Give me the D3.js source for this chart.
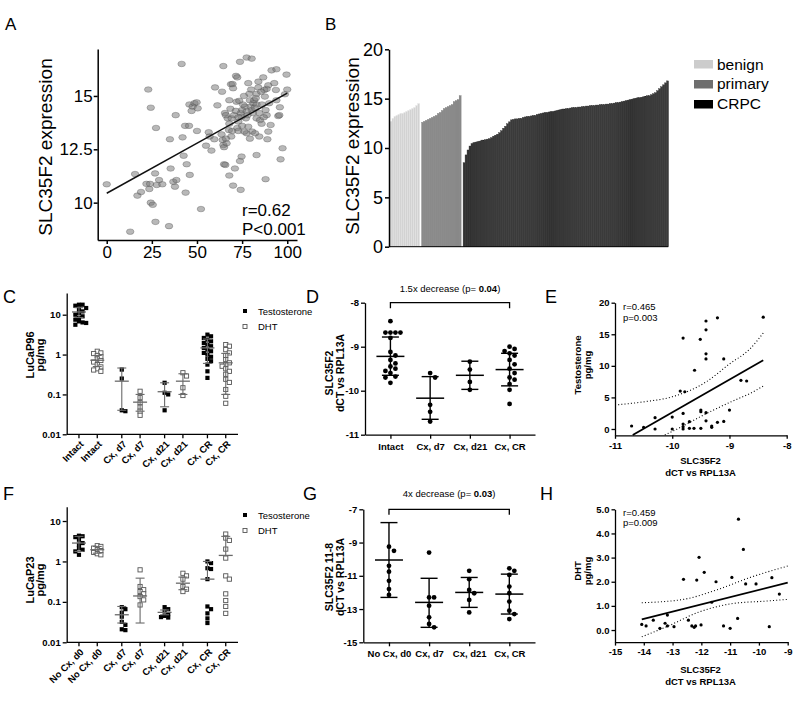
<!DOCTYPE html>
<html><head><meta charset="utf-8">
<script src="https://cdn.jsdelivr.net/npm/d3@7"></script>
<style>body{margin:0;background:#fff}svg{display:block}</style>
</head><body>
<script>
// ================= DATA =================
// Panel A: tumor content (%) vs SLC35F2 expression
const aSamples = [[0,10.86],[15.7,11.34],[17,10.33],[19,10.5],[13,8.64],[23,15.3],[24.4,14.45],[27.3,13.5],[22,10.88],[24,10.88],[23.6,10.64],[24.4,10],[25.5,9.9],[26.8,11.37],[27.7,10.83],[29,11.06],[30.8,10.86],[27,9.1],[34.5,8.9],[35,12.97],[35.4,11.6],[36.9,10.98],[37.8,10.75],[38.2,14.1],[38.6,11.06],[41.5,16.5],[42,13.06],[42.6,12.2],[43.4,13.6],[45.6,13.6],[43.7,10.47],[44.3,11.8],[46,11.3],[45.8,14.6],[47.6,14.5],[48.6,14.66],[49.8,14.7],[50.4,14.42],[47,14.3],[50,13.36],[52.2,9.7],[55,12.67],[56.5,13.3],[57,13.1],[58,12.44],[59.6,12.97],[60,15.4],[61.3,14.56],[63.6,13.2],[64.2,12.94],[64.6,12.7],[65,12.6],[66.4,12.78],[65,11.8],[65.7,11.77],[63.9,15.2],[64.6,16.4],[65.5,14.2],[67,13.95],[67.9,13.7],[69.2,13.95],[67.9,14.8],[68.8,15.55],[69.7,15.56],[70,15.36],[67.7,13.4],[69.5,13.36],[67.9,11.27],[70,10.8],[71,11.6],[71.6,15.94],[72.3,15.87],[73.8,16.6],[71.9,14.73],[73.4,14.77],[74.2,14.2],[72.9,13.8],[74.7,14.03],[72.3,13.5],[72.9,13.36],[73.8,11.95],[74.7,12.16],[74.2,10.6],[76.5,14.5],[77.5,16.8],[80.3,16.75],[78.4,15.6],[79,15.1],[79.3,14.8],[79.7,14.5],[80.3,14.34],[78.4,13.56],[79.3,13],[80.6,13.33],[81.2,14.66],[81.7,14.8],[82.6,14.9],[83,15.1],[84,15.4],[84,15.67],[83,14.6],[83,13.95],[82.2,13.25],[84.5,13.1],[83,12.23],[84.9,13.87],[85.8,13.7],[86.7,15.87],[87.3,15.28],[87.6,14.97],[88,14.34],[88.6,14.1],[88.6,15.33],[89.5,15.5],[90,14.66],[89.5,13.33],[89,12.97],[88,11.1],[90.8,13.64],[91.3,16.2],[94,16.25],[92.8,15.6],[93.7,15.28],[94,14.8],[95,14.06],[95.9,14.47],[95.6,14.1],[96.3,12.03],[97.4,12.55],[99.6,16],[100,15.3],[98.7,15.08],[77.5,13.25],[76.2,13.33],[75,14.34],[77.1,13.95],[77.5,14.27],[66,14.1],[68.5,14.4],[70.5,14.1],[71.5,14.3],[73,14.0],[75.5,14.6],[76,15.0],[78,14.1],[81,14.2],[82,14.45],[84.5,14.2],[86,14.6],[87,14.0],[80,15.3],[85.5,15.2],[69,13.1],[66,13.0],[75,13.6]];
const aFitX = [0, 100];
const aFitY = [10.44, 15.13];
const aStats = ["r=0.62", "P<0.001"];
const aXTicks = [0, 25, 50, 75, 100];
const aYTicks = [10, 12.5, 15];

// Panel B: sorted expression by sample type
const bBenign = [12.7,13.0,13.2,13.3,13.4,13.5,13.5,13.6,13.7,13.8,13.9,14.0,14.1,14.3,14.5];
const bPrimary = [12.6,12.7,12.8,12.9,13.0,13.1,13.2,13.3,13.5,13.6,13.8,14.0,14.1,14.2,14.3,14.4,14.7,14.8,14.9,15.3];
const bCRPC = [8.5,9.3,9.8,10.2,10.45,10.55,10.6,10.65,10.7,10.8,10.8,10.85,10.9,10.95,11.05,11.2,11.3,11.4,11.55,11.75,12.0,12.2,12.45,12.65,12.85,12.9,12.95,12.95,13.0,13.0,13.1,13.15,13.2,13.2,13.25,13.3,13.3,13.4,13.45,13.5,13.55,13.6,13.6,13.65,13.7,13.7,13.75,13.8,13.85,13.9,13.95,13.95,14.0,14.0,14.05,14.1,14.1,14.1,14.15,14.15,14.2,14.2,14.25,14.25,14.3,14.3,14.3,14.35,14.35,14.4,14.4,14.4,14.45,14.45,14.5,14.5,14.55,14.6,14.6,14.65,14.7,14.75,14.8,14.85,14.9,14.95,15.0,15.05,15.1,15.1,15.15,15.2,15.25,15.3,15.3,15.4,15.5,15.6,15.8,16.0,16.2,16.4,16.6,16.8];
const bLegend = ["benign", "primary", "CRPC"];
const bYTicks = [0, 5, 10, 15, 20];

// Panel C: LuCaP96 hormone levels (pg/mg)
const cGroups = ["Intact", "Cx, d7", "Cx, d21", "Cx, CR"];
const cTesto = [
  [17.8,17.8,16.8,14.7,13.9,12.1,11,10,9.1,8.3,7.5,6.8,6.4,6.2,5.6],
  [0.42,0.25,0.04,0.038],
  [0.196,0.11,0.1,0.04],
  [3.16,2.87,2.61,2.37,2.15,1.96,1.78,1.62,1.47,1.33,1.21,1.1,1.0,0.88,0.78,0.68,0.56,0.38,0.26]
];
const cDHT = [
  [1.21,1.1,1.06,0.95,0.88,0.78,0.71,0.65,0.56,0.49,0.44,0.41,0.38],
  [0.12,0.083,0.062,0.048,0.038,0.03],
  [0.35,0.29,0.147,0.094],
  [1.78,1.62,1.33,1.1,0.95,0.75,0.62,0.56,0.51,0.44,0.38,0.32,0.24,0.2,0.133,0.09,0.06]
];
const cTestoMean = [11.7, 0.215, 0.117, 1.47], cTestoLo = [8.5, 0.04, 0.049, 0.6], cTestoHi = [15, 0.46, 0.196, 2.45];
const cDHTMean = [0.72, 0.064, 0.215, 0.62], cDHTLo = [0.5, 0.038, 0.1, 0.1], cDHTHi = [0.95, 0.1, 0.33, 1.07];
const cLegend = ["Testosterone", "DHT"];
const logTicks = [0.01, 0.1, 1, 10];

// Panel D: LuCaP96 SLC35F2 dCT
const dGroups = ["Intact", "Cx, d7", "Cx, d21", "Cx, CR"];
const dValues = [
  [-8.42,-8.68,-8.68,-8.68,-8.68,-8.8,-9.12,-9.2,-9.3,-9.38,-9.45,-9.5,-9.55,-9.6,-9.68,-9.7,-9.82],
  [-9.6,-9.7,-10.32,-10.48,-10.7],
  [-9.34,-9.52,-9.8,-9.98],
  [-9.0,-9.05,-9.1,-9.15,-9.2,-9.3,-9.4,-9.5,-9.6,-9.7,-9.75,-9.85,-9.98,-10.3]
];
const dMean = [-9.22, -10.17, -9.65, -9.52], dLo = [-9.65, -10.65, -9.97, -9.89], dHi = [-8.78, -9.68, -9.33, -9.15];
const dYTicks = [-11, -10, -9, -8];
const dNote = ["1.5x decrease (p= ", "0.04", ")"];

// Panel E: testosterone vs SLC35F2
const eSamples = [[-10.71,0.47],[-10.5,0.26],[-10.3,1.79],[-10.3,0],[-10.0,1.89],[-10.0,0],[-9.81,2.47],[-9.81,0.79],[-9.81,0.37],[-9.81,0],[-9.7,0.1],[-9.86,6.0],[-9.78,5.9],[-9.81,14.4],[-9.61,9.3],[-9.7,1.16],[-9.62,0.1],[-9.51,14.2],[-9.5,3.0],[-9.5,2.74],[-9.5,0.1],[-9.41,17.1],[-9.41,15.7],[-9.41,11.9],[-9.41,11.1],[-9.41,2.58],[-9.41,1.3],[-9.31,0.47],[-9.31,0.26],[-9.21,17.6],[-9.21,1.05],[-9.1,11.1],[-9.1,1.2],[-9.0,3.0],[-8.8,7.7],[-8.7,7.6],[-8.41,17.7]];
const eFitX = [-10.69, -8.41], eFitY = [-0.95, 10.9];
const eUpperX = [-11, -10.5, -10, -9.4, -9, -8.64, -8.41], eUpperY = [3.8, 4.3, 5.1, 7.5, 10.3, 12.7, 15.2];
const eLowerX = [-10.13, -9.81, -9.51, -9.22, -8.93, -8.64, -8.41], eLowerY = [-0.95, 0.47, 1.95, 3.26, 4.47, 5.63, 6.8];
const eStats = ["r=0.465", "p=0.003"];
const eXTicks = [-11, -10, -9, -8], eYTicks = [0, 5, 10, 15, 20];

// Panel F: LuCaP23 hormone levels
const fGroups = ["No Cx, d0", "Cx, d7", "Cx, d21", "Cx, CR"];
const fTesto = [
  [4.33,4.2,4.0,3.45,2.85,2.6,2.14,1.95,1.77,1.46],
  [0.074,0.066,0.054,0.043,0.032,0.027,0.021,0.02],
  [0.074,0.066,0.058,0.05,0.045,0.042,0.041],
  [1.0,0.91,0.68,0.65,0.365,0.077,0.066,0.052,0.039,0.03]
];
const fDHT = [
  [2.45,2.35,2.14,1.95,1.84,1.67,1.55,1.46],
  [0.62,0.24,0.2,0.18,0.158,0.135,0.112,0.084],
  [0.51,0.44,0.365,0.24,0.206,0.18],
  [4.76,3.79,3.32,2.02,1.21,0.44,0.365,0.158,0.108,0.077,0.052]
];
const fTestoMean = [2.85, 0.048, 0.055, 0.365], fTestoLo = [1.77, 0.03, 0.048, null], fTestoHi = [4.17, 0.077, 0.063, 1.0];
const fDHTMean = [1.95, 0.14, 0.29, 1.41], fDHTLo = [1.6, 0.03, 0.2, null], fDHTHi = [2.35, 0.386, 0.41, 4.17];
const fLegend = ["Tesosterone", "DHT"];

// Panel G: LuCaP23 SLC35F2 11-8 dCT
const gGroups = ["No Cx, d0", "Cx, d7", "Cx, d21", "Cx, CR"];
const gValues = [
  [-9.25,-9.5,-10.4,-10.75,-11.3,-11.8,-12.15],
  [-9.6,-12.3,-12.3,-12.8,-13.5,-13.9,-14.1],
  [-10.7,-11.2,-11.85,-12.05,-12.45,-13.2],
  [-10.55,-10.7,-10.95,-11.65,-12.05,-12.55,-13.1,-13.3,-13.6]
];
const gMean = [-10.05, -12.6, -12.0, -12.1], gLo = [-12.3, -14.1, -12.9, -13.3], gHi = [-7.8, -11.15, -11.1, -10.9];
const gYTicks = [-15, -13, -11, -9, -7];
const gNote = ["4x decrease (p= ", "0.03", ")"];

// Panel H: DHT vs SLC35F2
const hSamples = [[-14.07,0.23],[-13.92,0.17],[-13.67,0.41],[-13.44,0.07],[-13.26,0.28],[-13.18,0.62],[-13.18,0.17],[-12.95,0.14],[-12.62,2.1],[-12.45,0.41],[-12.33,0.17],[-12.25,0.11],[-12.2,0.17],[-12.16,2.07],[-12.08,3.01],[-12.01,0.21],[-11.9,2.39],[-11.64,1.15],[-11.49,2.0],[-11.23,0.17],[-11.0,0.07],[-10.94,2.18],[-10.74,0.48],[-10.71,4.59],[-10.54,3.34],[-10.46,1.91],[-10.1,1.91],[-9.64,0.14],[-9.55,2.17],[-9.29,1.49]];
const hFitX = [-14.07, -9.0], hFitY = [0.44, 1.96];
const hUpperX = [-14.07, -12.62, -11.47, -10.3, -9.0], hUpperY = [1.13, 1.27, 1.66, 2.18, 2.65];
const hLowerX = [-14.07, -13.2, -12.05, -10.89, -9.73, -9.0], hLowerY = [-0.28, 0.14, 0.76, 1.1, 1.2, 1.27];
const hStats = ["r=0.459", "p=0.009"];
const hXTicks = [-15, -14, -13, -12, -11, -10, -9], hYTicks = [0, 1, 2, 3, 4, 5];

// ================= DRAWING =================
const FONT = "'Liberation Sans', Arial, Helvetica, sans-serif";
const svg = d3.select("body").append("svg").attr("width", 800).attr("height", 703)
  .attr("font-family", FONT);
const plain = d => String(d);

function txt(g, x, y, s, o = {}) {
  const t = g.append("text").attr("x", x).attr("y", y).text(s)
    .attr("font-size", o.size || 10).attr("font-weight", o.bold ? "bold" : "normal")
    .attr("text-anchor", o.anchor || "start").attr("fill", "#000");
  if (o.dy) t.attr("dy", o.dy);
  return t;
}
function vtxt(g, x, y, s, o = {}) {
  return g.append("text").attr("transform", `translate(${x},${y}) rotate(-90)`)
    .attr("dy", "0.35em").attr("text-anchor", "middle").text(s)
    .attr("font-size", o.size || 10).attr("font-weight", o.bold ? "bold" : "normal").attr("fill", "#000");
}
function styleAxis(sel, fs, bold, sw) {
  sel.attr("font-family", FONT).attr("font-size", fs);
  sel.selectAll(".domain").attr("stroke", "#000").attr("stroke-width", sw);
  sel.selectAll(".tick line").attr("stroke", "#000").attr("stroke-width", sw);
  sel.selectAll(".tick text").attr("fill", "#000").attr("font-weight", bold ? "bold" : "normal");
}
function swarm(ys, step, thr) {
  const idx = ys.map((_, i) => i).sort((a, b) => ys[a] - ys[b]);
  const placed = [], off = new Array(ys.length).fill(0);
  idx.forEach(i => {
    for (let k = 0; k < 30; k++) {
      const o = k === 0 ? 0 : (k % 2 ? 1 : -1) * Math.ceil(k / 2) * step;
      if (placed.every(p => Math.abs(p.x - o) >= thr || Math.abs(p.y - ys[i]) >= thr)) {
        off[i] = o; placed.push({ x: o, y: ys[i] }); break;
      }
    }
  });
  return off;
}

// Panel letters
[["A", 5, 30, 17], ["B", 325, 30, 17], ["C", 3, 303, 18], ["D", 306, 303, 18], ["E", 545, 303, 18],
 ["F", 3, 500, 18], ["G", 303, 500, 18], ["H", 540, 500, 18]].forEach(([l, x, y, s]) => txt(svg, x, y, l, { size: s }));

// ---------- Panel A ----------
(function () {
  const g = svg.append("g");
  const x = d3.scaleLinear().domain([-5, 105.4]).range([97.7, 297]);
  const y = d3.scaleLinear().domain([8.25, 17.2]).range([240, 49]);
  g.selectAll("ellipse").data(aSamples).join("ellipse")
    .attr("cx", d => x(d[0])).attr("cy", d => y(d[1])).attr("rx", 3.8).attr("ry", 2.8)
    .attr("fill", "#767676").attr("fill-opacity", 0.52).attr("stroke", "#4a4a4a").attr("stroke-opacity", 0.55).attr("stroke-width", 0.6);
  g.append("line").attr("x1", x(aFitX[0])).attr("y1", y(aFitY[0])).attr("x2", x(aFitX[1])).attr("y2", y(aFitY[1]))
    .attr("stroke", "#111").attr("stroke-width", 1.5);
  const xa = g.append("g").attr("transform", "translate(0,240)")
    .call(d3.axisBottom(x).tickValues(aXTicks).tickFormat(plain).tickSize(4).tickPadding(2).tickSizeOuter(0));
  styleAxis(xa, 17, false, 1.5);
  const ya = g.append("g").attr("transform", "translate(97.7,0)")
    .call(d3.axisLeft(y).tickValues(aYTicks).tickFormat(plain).tickSize(4).tickPadding(1).tickSizeOuter(0));
  styleAxis(ya, 17, false, 1.5);
  vtxt(g, 45, 147, "SLC35F2 expression", { size: 19 });
  txt(g, 242, 216, aStats[0], { size: 17 });
  txt(g, 242, 235, aStats[1], { size: 17 });
})();

// ---------- Panel B ----------
(function () {
  const g = svg.append("g");
  const keys = [...bBenign.map((_, i) => "b" + i), "gap1", ...bPrimary.map((_, i) => "p" + i), "gap2", ...bCRPC.map((_, i) => "c" + i)];
  const x = d3.scaleBand().domain(keys).range([390, 668.3]).paddingInner(0.12);
  const y = d3.scaleLinear().domain([0, 20]).range([246.7, 49.3]);
  const cols = { b: "#d2d2d2", p: "#8a8a8a", c: "#3a3a3a" };
  const bars = [
    ...bBenign.map((v, i) => ({ k: "b" + i, v, t: "b" })),
    ...bPrimary.map((v, i) => ({ k: "p" + i, v, t: "p" })),
    ...bCRPC.map((v, i) => ({ k: "c" + i, v, t: "c" }))];
  g.selectAll("rect.bar").data(bars).join("rect").attr("class", "bar")
    .attr("x", d => x(d.k)).attr("width", x.step()).attr("y", d => y(d.v)).attr("height", d => y(0) - y(d.v))
    .attr("fill", d => cols[d.t]).attr("stroke", d => d.t === "c" ? "#222" : (d.t === "p" ? "#777" : "#e6e6e6")).attr("stroke-width", 0.35);
  const ya = g.append("g").attr("transform", "translate(389,0)")
    .call(d3.axisLeft(y).tickValues(bYTicks).tickFormat(plain).tickSize(4).tickPadding(2).tickSizeOuter(0));
  styleAxis(ya, 18, false, 1.5);
  g.append("line").attr("x1", 389).attr("x2", 668.3).attr("y1", y(0)).attr("y2", y(0)).attr("stroke", "#000").attr("stroke-width", 1);
  vtxt(g, 352, 146, "SLC35F2 expression", { size: 19 });
  const lc = ["#cccccc", "#6e6e6e", "#000"];
  bLegend.forEach((l, i) => {
    g.append("rect").attr("x", 694).attr("y", 60 + i * 20).attr("width", 19).attr("height", 8.5).attr("fill", lc[i]);
    txt(g, 717, 69.5 + i * 19.5, l, { size: 15.5 });
  });
})();

// ---------- Panels C & F ----------
function hormonePanel(p) {
  const g = svg.append("g");
  const y = d3.scaleLog().domain(p.yDomain).range([p.yBottom, p.yTop]);
  const outer = d3.scaleBand().domain(p.groups).range([66.7, 238]);
  const inner = d3.scalePoint().domain(["T", "DHT"]).range([0, outer.bandwidth()]).padding(0.67);
  const xPos = (gi, s) => outer(p.groups[gi]) + inner(s);
  const series = [
    { s: "T", vals: p.testo, mean: p.tMean, lo: p.tLo, hi: p.tHi },
    { s: "DHT", vals: p.dht, mean: p.dMean, lo: p.dLo, hi: p.dHi }];
  series.forEach(ser => {
    ser.vals.forEach((vals, gi) => {
      const ys = vals.map(v => y(v));
      const off = swarm(ys, 3.6, 3.4);
      const cx = xPos(gi, ser.s);
      g.selectAll(null).data(vals).join("rect")
        .attr("x", (d, i) => cx + off[i] - 2.1).attr("y", (d, i) => ys[i] - 2.1)
        .attr("width", 4.2).attr("height", 4.2)
        .attr("fill", ser.s === "T" ? "#000" : "#fff")
        .attr("stroke", ser.s === "T" ? "none" : "#555").attr("stroke-width", 0.9);
      const m = y(ser.mean[gi]), hi = y(ser.hi[gi]);
      const lo = ser.lo[gi] == null ? m : y(ser.lo[gi]);
      const col = "#6a6a6a";
      g.append("line").attr("x1", cx).attr("x2", cx).attr("y1", lo).attr("y2", hi).attr("stroke", col).attr("stroke-width", 1.1);
      g.append("line").attr("x1", cx - 7).attr("x2", cx + 7).attr("y1", m).attr("y2", m).attr("stroke", col).attr("stroke-width", 1.3);
      g.append("line").attr("x1", cx - 4.5).attr("x2", cx + 4.5).attr("y1", hi).attr("y2", hi).attr("stroke", col).attr("stroke-width", 1.1);
      if (ser.lo[gi] != null)
        g.append("line").attr("x1", cx - 4.5).attr("x2", cx + 4.5).attr("y1", lo).attr("y2", lo).attr("stroke", col).attr("stroke-width", 1.1);
    });
  });
  const ya = g.append("g").attr("transform", "translate(66.7,0)")
    .call(d3.axisLeft(y).tickValues(logTicks).tickFormat(plain).tickSize(4).tickPadding(2).tickSizeOuter(0));
  styleAxis(ya, 9.5, true, 1.3);
  g.append("line").attr("x1", 66.7).attr("x2", 238).attr("y1", p.yBottom).attr("y2", p.yBottom).attr("stroke", "#000").attr("stroke-width", 1.3);
  p.groups.forEach((gn, gi) => ["T", "DHT"].forEach(s => {
    const cx = xPos(gi, s);
    g.append("line").attr("x1", cx).attr("x2", cx).attr("y1", p.yBottom).attr("y2", p.yBottom + 4).attr("stroke", "#000").attr("stroke-width", 1.3);
    g.append("text").attr("transform", `translate(${cx + 3},${p.yBottom + 8}) rotate(-45)`)
      .attr("text-anchor", "end").attr("dy", "0.35em").attr("font-size", 9.5).attr("font-weight", "bold").text(gn);
  }));
  vtxt(g, 30, p.titleY, p.title, { size: 11, bold: true });
  vtxt(g, 40, p.titleY, "pg/mg", { size: 11, bold: true });
  p.legend.forEach((l, i) => {
    const ly = p.legendY + i * 15.5;
    g.append("rect").attr("x", 243).attr("y", ly - 2).attr("width", 4).attr("height", 4)
      .attr("fill", i === 0 ? "#000" : "#fff").attr("stroke", i === 0 ? "none" : "#555").attr("stroke-width", 0.9);
    txt(g, 258, ly + 3.5, l, { size: 9.5 });
  });
}
hormonePanel({ yDomain: [0.01, 35], yBottom: 434.3, yTop: 293, groups: cGroups, testo: cTesto, dht: cDHT,
  tMean: cTestoMean, tLo: cTestoLo, tHi: cTestoHi, dMean: cDHTMean, dLo: cDHTLo, dHi: cDHTHi,
  title: "LuCaP96", titleY: 355, legend: cLegend, legendY: 311 });
hormonePanel({ yDomain: [0.01, 22.6], yBottom: 642.3, yTop: 506.7, groups: fGroups, testo: fTesto, dht: fDHT,
  tMean: fTestoMean, tLo: fTestoLo, tHi: fTestoHi, dMean: fDHTMean, dLo: fDHTLo, dHi: fDHTHi,
  title: "LuCaP23", titleY: 580, legend: fLegend, legendY: 515 });

// ---------- Panels D & G ----------
function dctPanel(p) {
  const g = svg.append("g");
  const y = d3.scaleLinear().domain(p.yDomain).range([p.yBottom, p.yTop]);
  const x = d3.scalePoint().domain(p.groups).range([p.x0, 535]).padding(0.64);
  p.values.forEach((vals, gi) => {
    const cx = x(p.groups[gi]);
    const ys = vals.map(v => y(v));
    const off = swarm(ys, 5, 4.6);
    g.selectAll(null).data(vals).join("circle")
      .attr("cx", (d, i) => cx + off[i]).attr("cy", (d, i) => ys[i]).attr("r", 2.4).attr("fill", "#000");
    const m = y(p.mean[gi]), lo = y(p.lo[gi]), hi = y(p.hi[gi]);
    g.append("line").attr("x1", cx).attr("x2", cx).attr("y1", lo).attr("y2", hi).attr("stroke", "#000").attr("stroke-width", 1.4);
    g.append("line").attr("x1", cx - 14).attr("x2", cx + 14).attr("y1", m).attr("y2", m).attr("stroke", "#000").attr("stroke-width", 1.5);
    [lo, hi].forEach(v => g.append("line").attr("x1", cx - 8.5).attr("x2", cx + 8.5).attr("y1", v).attr("y2", v).attr("stroke", "#000").attr("stroke-width", 1.4));
  });
  const ya = g.append("g").attr("transform", `translate(${p.x0},0)`)
    .call(d3.axisLeft(y).tickValues(p.yTicks).tickFormat(plain).tickSize(4).tickPadding(2).tickSizeOuter(0));
  styleAxis(ya, 9.5, true, 1.3);
  const xa = g.append("g").attr("transform", `translate(0,${p.yBottom})`)
    .call(d3.axisBottom(x).tickSize(4).tickPadding(p.xPad).tickSizeOuter(0));
  styleAxis(xa, 9.5, true, 1.3);
  const bx0 = x(p.groups[0]), bx1 = x(p.groups[3]), by = p.yTop;
  g.append("path").attr("d", `M${bx0},${by + 5.5}V${by}H${bx1}V${by + 5.5}`).attr("fill", "none").attr("stroke", "#000").attr("stroke-width", 1.3);
  const t = g.append("text").attr("x", (bx0 + bx1) / 2).attr("y", p.noteY).attr("text-anchor", "middle").attr("font-size", 9.5).attr("fill", "#000");
  t.append("tspan").text(p.note[0]);
  t.append("tspan").attr("font-weight", "bold").text(p.note[1]);
  t.append("tspan").text(p.note[2]);
  vtxt(g, 329.5, p.titleY, p.title1, { size: 10.5, bold: true });
  vtxt(g, 340, p.titleY, p.title2, { size: 10.5, bold: true });
}
dctPanel({ yDomain: [-11, -8], yBottom: 434.7, yTop: 302.7, x0: 365, groups: dGroups, values: dValues,
  mean: dMean, lo: dLo, hi: dHi, yTicks: dYTicks, xPad: 5, note: dNote, noteY: 291.5,
  title1: "SLC35F2", title2: "dCT vs RPL13A", titleY: 373 });
dctPanel({ yDomain: [-15, -7], yBottom: 642.3, yTop: 509.3, x0: 363.3, groups: gGroups, values: gValues,
  mean: gMean, lo: gLo, hi: gHi, yTicks: gYTicks, xPad: 4, note: gNote, noteY: 497,
  title1: "SLC35F2 11-8", title2: "dCT vs RPL13A", titleY: 577 });

// ---------- Panels E & H ----------
function corrPanel(p) {
  const g = svg.append("g");
  const x = d3.scaleLinear().domain(p.xDomain).range([615, p.x1]);
  const y = d3.scaleLinear().domain(p.yDomain).range([p.yBottom, p.yTop]);
  const line = d3.line().x(d => x(d[0])).y(d => y(d[1])).curve(d3.curveMonotoneX);
  [[p.upX, p.upY], [p.loX, p.loY]].forEach(([xs, ys]) =>
    g.append("path").attr("d", line(xs.map((v, i) => [v, ys[i]]))).attr("fill", "none")
      .attr("stroke", "#000").attr("stroke-width", 1.1).attr("stroke-dasharray", "1,2.2"));
  g.append("line").attr("x1", x(p.fitX[0])).attr("y1", y(p.fitY[0])).attr("x2", x(p.fitX[1])).attr("y2", y(p.fitY[1]))
    .attr("stroke", "#000").attr("stroke-width", 1.8);
  g.selectAll(null).data(p.samples).join("circle").attr("cx", d => x(d[0])).attr("cy", d => y(d[1])).attr("r", 1.6).attr("fill", "#000");
  const ya = g.append("g").attr("transform", "translate(615,0)")
    .call(d3.axisLeft(y).tickValues(p.yTicks).tickFormat(p.yFmt).tickSize(3.5).tickPadding(2).tickSizeOuter(0));
  styleAxis(ya, 9.5, true, 1.3);
  const xa = g.append("g").attr("transform", `translate(0,${p.yBottom})`)
    .call(d3.axisBottom(x).tickValues(p.xTicks).tickFormat(plain).tickSize(3.5).tickPadding(3).tickSizeOuter(0));
  styleAxis(xa, 9.5, true, 1.3);
  txt(g, 623, p.statY, p.stats[0], { size: 9.5 });
  txt(g, 623, p.statY + 10.5, p.stats[1], { size: 9.5 });
  txt(g, 700.5, p.xtY, "SLC35F2", { size: 9.5, bold: true, anchor: "middle" });
  txt(g, 700.5, p.xtY + 11.5, "dCT vs RPL13A", { size: 9.5, bold: true, anchor: "middle" });
  vtxt(g, 577.7, p.ytY, p.yTitle, { size: 9.5, bold: true });
  vtxt(g, 587.7, p.ytY, "pg/mg", { size: 9.5, bold: true });
}
corrPanel({ xDomain: [-11, -8], x1: 786.7, yDomain: [-1, 20], yBottom: 435.3, yTop: 302.7, samples: eSamples,
  fitX: eFitX, fitY: eFitY, upX: eUpperX, upY: eUpperY, loX: eLowerX, loY: eLowerY, xTicks: eXTicks, yTicks: eYTicks,
  yFmt: plain, stats: eStats, statY: 310, xtY: 464, ytY: 365, yTitle: "Testosterone" });
corrPanel({ xDomain: [-15, -9], x1: 787.7, yDomain: [-0.5, 5], yBottom: 642.1, yTop: 509.3, samples: hSamples,
  fitX: hFitX, fitY: hFitY, upX: hUpperX, upY: hUpperY, loX: hLowerX, loY: hLowerY, xTicks: hXTicks, yTicks: hYTicks,
  yFmt: d => d.toFixed(1), stats: hStats, statY: 515.5, xtY: 673, ytY: 571, yTitle: "DHT" });
</script>
</body></html>
